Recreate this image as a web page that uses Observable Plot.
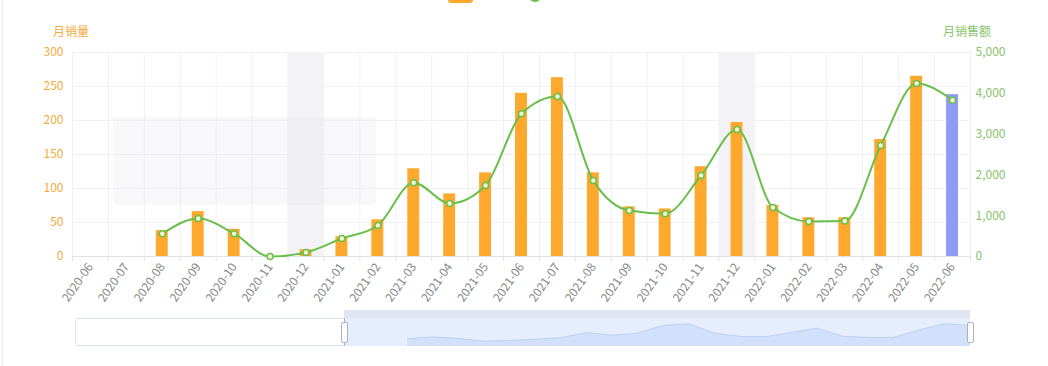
<!DOCTYPE html>
<html><head><meta charset="utf-8">
<script src="https://cdn.jsdelivr.net/npm/d3@7"></script>
<script src="https://cdn.jsdelivr.net/npm/@observablehq/plot@0.6"></script>
<style>
html,body{margin:0;padding:0;background:#fff;}
#wrap{position:relative;width:1048px;height:366px;overflow:hidden;font-family:"Noto Sans CJK SC","Noto Sans",sans-serif;}
.abs{position:absolute;}
</style></head><body><div id="wrap"></div>
<script>
const months = ["2020-06","2020-07","2020-08","2020-09","2020-10","2020-11","2020-12","2021-01","2021-02","2021-03","2021-04","2021-05","2021-06","2021-07","2021-08","2021-09","2021-10","2021-11","2021-12","2022-01","2022-02","2022-03","2022-04","2022-05","2022-06"];
const volume = [null,null,38,66,40,0,10,29,54,129,92,123,240,263,123,73,70,132,197,75,57,57,172,265,238];
const sales  = [null,null,560,930,560,0,100,440,760,1810,1300,1740,3500,3920,1860,1125,1050,1985,3110,1200,860,870,2720,4240,3830];
const highlightMonths = ["2020-12","2021-12"];
const activeMonth = "2022-06";
const volumeTicks = [0,50,100,150,200,250,300];
const salesTicks = [0,1000,2000,3000,4000,5000];
const seriesNames = ["月销量","月销售额"];

const C = {bar:"#fea82e", active:"#8f9cf4", line:"#6abf4b", left:"#f5ab3c", right:"#86c46a", grid:"#f1f1f5", axis:"#dfe2ea", band:"#f3f3f7", label:"#8a8a8a"};
const wrap = document.getElementById("wrap");
const W = 1048, H = 318, mt = 52, mb = 62, ml = 72, mr = 78;
const bw = (W - ml - mr) / months.length;
const k = volumeTicks[volumeTicks.length-1] / salesTicks[salesTicks.length-1];
const rows = months.map((m,i)=>({month:m, volume:volume[i], sales:sales[i]}));
const fmt = d3.format(",");

const chart = Plot.plot({
  width: W, height: H, marginTop: mt, marginBottom: mb, marginLeft: ml, marginRight: mr,
  style: {fontFamily: '"Noto Sans CJK SC","Noto Sans",sans-serif', fontSize: "12px", background: "transparent", overflow: "visible"},
  x: {type: "band", domain: months, padding: 0, round: false, axis: null, label: null},
  y: {domain: [0, 300], axis: null, label: null},
  marks: [
    Plot.ruleY(volumeTicks.slice(1), {stroke: C.grid}),
    Plot.ruleX(months, {x: d=>d, dx: -bw/2, stroke: C.grid}),
    Plot.ruleX(months.slice(-1), {x: d=>d, dx: bw/2, stroke: C.grid}),
    Plot.barY(highlightMonths, {x: d=>d, y: volumeTicks[volumeTicks.length-1], fill: C.band}),
    Plot.barY(rows.filter(d=>d.volume), {x: "month", y: "volume", fill: d=>d.month===activeMonth?C.active:C.bar, insetLeft: 12, insetRight: 12}),
    Plot.ruleY([0], {stroke: C.axis}),
    Plot.axisX({tickSize: 5, tickFormat: ()=>"", dx: -bw/2, stroke: C.axis, label: null}),
    Plot.axisX(months.slice(-1), {tickSize: 5, tickFormat: ()=>"", dx: bw/2, stroke: C.axis, label: null}),
    Plot.axisX({tickSize: 0, tickPadding: 8, tickRotate: -55, color: C.label, fontSize: 12, label: null}),
    Plot.axisY(volumeTicks, {anchor: "left", tickSize: 0, tickPadding: 9, color: C.left, fontSize: 12, label: null}),
    Plot.axisY(salesTicks.map(v=>v*k), {anchor: "right", tickSize: 0, tickPadding: 5, color: C.right, fontSize: 12, label: null, tickFormat: d=>fmt(Math.round(d/k))}),
    Plot.line(rows.filter(d=>d.sales!=null), {x: "month", y: d=>d.sales*k, curve: "monotone-x", stroke: C.line, strokeWidth: 2}),
    Plot.dot(rows.filter(d=>d.sales!=null), {x: "month", y: d=>d.sales*k, r: 3, stroke: C.line, strokeWidth: 1.5, fill: "#f4f8d2"})
  ]
});
chart.classList.add("abs");
chart.style.left = "0px"; chart.style.top = "0px";
wrap.appendChild(chart);

function div(style, text){ const e=document.createElement("div"); e.className="abs"; Object.assign(e.style, style); if(text) e.textContent=text; wrap.appendChild(e); return e; }

// page edge
div({left:"2px", top:"0px", width:"1px", height:"366px", background:"#ececec"});
// axis titles
div({left:"53px", top:"22px", fontSize:"12px", color:C.left, whiteSpace:"nowrap"}, seriesNames[0]);
div({left:"943px", top:"22px", fontSize:"12px", color:C.right, whiteSpace:"nowrap"}, seriesNames[1]);
// legend icons (only their lower edges show at the top)
div({left:"448px", top:"-11px", width:"25px", height:"14px", borderRadius:"3px", background:C.bar});
div({left:"522px", top:"-6px", width:"26px", height:"2px", background:C.line});
div({left:"528px", top:"-12px", width:"10px", height:"10px", borderRadius:"50%", border:"2px solid "+C.line, background:"#fff"});
// ghost tooltip
div({left:"113px", top:"117px", width:"263px", height:"88px", background:"rgba(225,225,232,0.22)", borderRadius:"4px"});

// data zoom slider
const sx = 344, sw = 970 - 344, sy = 318, sh = 28;
div({left:"75px", top:sy+"px", width:"895px", height:sh+"px", border:"1px solid #dde3ee", borderRadius:"3px", boxSizing:"border-box", background:"#fff"});
div({left:sx+"px", top:sy+"px", width:sw+"px", height:sh+"px", background:"#e6eefd"});
div({left:sx+"px", top:"310px", width:sw+"px", height:"8px", background:"#dfe6f2"});
const vmax = d3.max(volume);
const shadowRows = rows.filter(d=>d.volume!=null);
const shx = 407, shw = 970 - shx;
const shadow = Plot.plot({
  width: shw, height: sh, margin: 0,
  style: {background: "transparent"},
  x: {type: "point", domain: shadowRows.map(d=>d.month), padding: 0, round: false, axis: null},
  y: {domain: [-0.3*vmax, 1.3*vmax], axis: null},
  marks: [
    Plot.areaY(shadowRows, {x: "month", y1: -0.3*vmax, y2: "volume", fill: "#d2e0fb"}),
    Plot.line(shadowRows, {x: "month", y: "volume", stroke: "#bfd1f3", strokeWidth: 1})
  ]
});
shadow.classList.add("abs");
shadow.style.left = shx+"px"; shadow.style.top = sy+"px";
wrap.appendChild(shadow);
div({left:(sx-0.5)+"px", top:sy+"px", width:"1px", height:sh+"px", background:"#aab4c6"});
div({left:(sx-3)+"px", top:"322px", width:"5px", height:"19px", background:"#fff", border:"1px solid #a9b3c4", borderRadius:"2px"});
div({left:(sx+sw-3)+"px", top:"322px", width:"5px", height:"19px", background:"#fff", border:"1px solid #a9b3c4", borderRadius:"2px"});
</script></body></html>
